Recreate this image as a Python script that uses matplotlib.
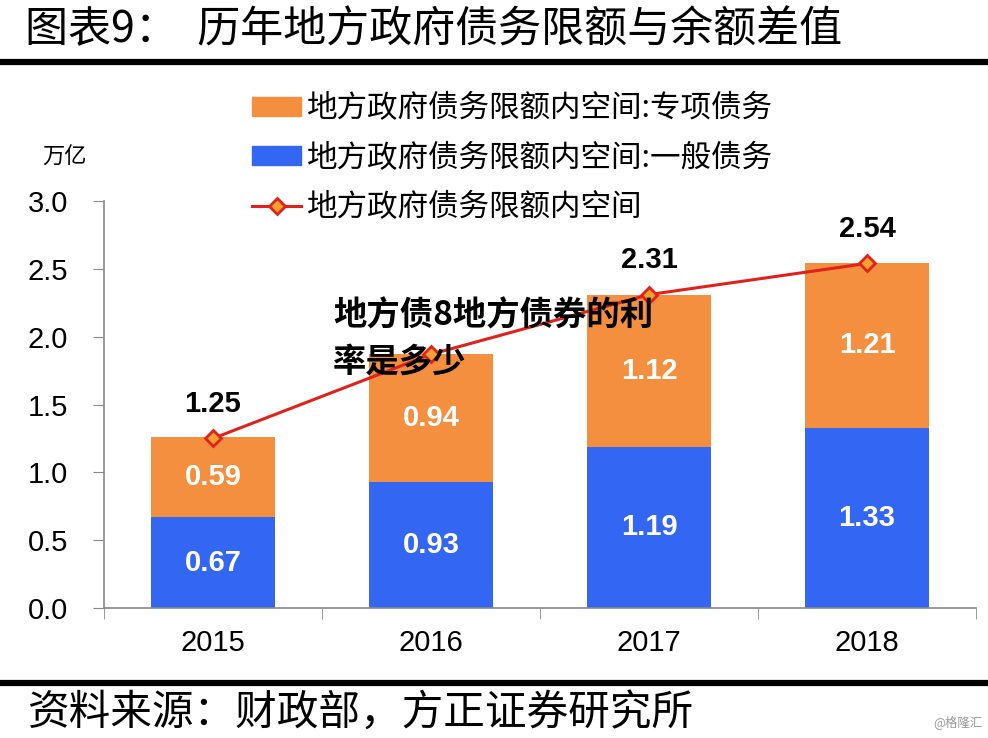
import matplotlib.pyplot as plt
from matplotlib.lines import Line2D
from matplotlib.patches import Patch

plt.rcParams['font.family'] = ['Liberation Sans', 'Noto Sans CJK SC', 'DejaVu Sans']
CJK = ['Noto Sans CJK SC', 'DejaVu Sans']

# 数据
years = ['2015', '2016', '2017', '2018']
general = [0.67, 0.93, 1.19, 1.33]   # 一般债务
special = [0.59, 0.94, 1.12, 1.21]   # 专项债务
total = [1.25, 1.87, 2.31, 2.54]     # 限额内空间
show_total = [True, False, True, True]  # 2016 的数值被遮住了

c_orange = '#F48F3F'
c_blue = '#3366F2'
c_red = '#E0211C'

fig = plt.figure(figsize=(9.88, 7.38), dpi=100)
ax = fig.add_axes([104 / 988, 130 / 738, 872 / 988, 407 / 738])

x = range(len(years))
ax.bar(x, general, width=0.57, color=c_blue, zorder=2)
ax.bar(x, special, width=0.57, bottom=general, color=c_orange, zorder=2)
ax.plot(x, total, color=c_red, lw=2.2, marker='D', ms=8,
        mfc='#F7A030', mec=c_red, mew=2, zorder=3)

for i in x:
    ax.text(i, general[i] / 2, f'{general[i]:.2f}', ha='center', va='center',
            color='white', fontsize=21, fontweight='bold', zorder=4)
    ax.text(i, general[i] + special[i] / 2, f'{special[i]:.2f}', ha='center',
            va='center', color='white', fontsize=21, fontweight='bold', zorder=4)
    if show_total[i]:
        ax.annotate(f'{total[i]:.2f}', (i, total[i]), xytext=(0, 25),
                    textcoords='offset points', ha='center', va='center',
                    fontsize=21, fontweight='bold', color='black')

yt = [0, 0.5, 1.0, 1.5, 2.0, 2.5, 3.0]
ax.set_xlim(-0.5, 3.5)
ax.set_ylim(0, 3.0)
ax.set_yticks(yt)
ax.set_yticklabels([f'{v:.1f}' for v in yt])
ax.set_xticks(list(x))
ax.set_xticklabels(years)
ax.set_xticks([-0.5, 0.5, 1.5, 2.5, 3.5], minor=True)
ax.tick_params(axis='x', which='major', length=0, labelsize=21, pad=15)
ax.tick_params(axis='x', which='minor', length=8, color='#888888', direction='out')
ax.tick_params(axis='y', length=8, color='#888888', labelsize=21, pad=18)
for s in ['top', 'right']:
    ax.spines[s].set_visible(False)
for s in ['left', 'bottom']:
    ax.spines[s].set_color('#888888')
    ax.spines[s].set_linewidth(1.2)

fig.text(42 / 988, 1 - 157 / 738, '万亿', family=CJK, fontsize=16,
         ha='left', va='center')

handles = [Patch(color=c_orange), Patch(color=c_blue),
           Line2D([], [], color=c_red, lw=2.2, marker='D', ms=8,
                  mfc='#F7A030', mec=c_red, mew=2)]
labels = ['地方政府债务限额内空间:专项债务', '地方政府债务限额内空间:一般债务',
          '地方政府债务限额内空间']
fig.legend(handles, labels, loc='upper left', bbox_to_anchor=(237 / 988, 1 - 78 / 738),
           frameon=False, prop={'family': CJK, 'size': 22}, handlelength=1.6,
           handleheight=0.58, handletextpad=0.2, labelspacing=0.6, borderpad=0)

# 标题与来源
fig.text(25 / 988, 1 - 30 / 738, '图表9：  历年地方政府债务限额与余额差值',
         family=CJK, fontsize=31, ha='left', va='center')
fig.add_artist(Line2D([0, 1], [1 - 62 / 738] * 2, color='black', lw=4.5,
                      transform=fig.transFigure))
fig.add_artist(Line2D([0, 1], [1 - 683 / 738] * 2, color='black', lw=4.5,
                      transform=fig.transFigure))
fig.text(28 / 988, 1 - 713 / 738, '资料来源：财政部，方正证券研究所',
         family=CJK, fontsize=30, ha='left', va='center', style='italic')
fig.text(983 / 988, 1 - 722 / 738, '@格隆汇', family=CJK, fontsize=9,
         color='#999999', ha='right', va='center')

# 覆盖在图上的文字
fig.text(333 / 988, 1 - 316 / 738, '地方债8地方债券的利', family=CJK,
         fontsize=24, fontweight='bold', ha='left', va='center', zorder=10)
fig.text(333 / 988, 1 - 362 / 738, '率是多少', family=CJK,
         fontsize=24, fontweight='bold', ha='left', va='center', zorder=10)

fig.savefig('out.png', dpi=100)
